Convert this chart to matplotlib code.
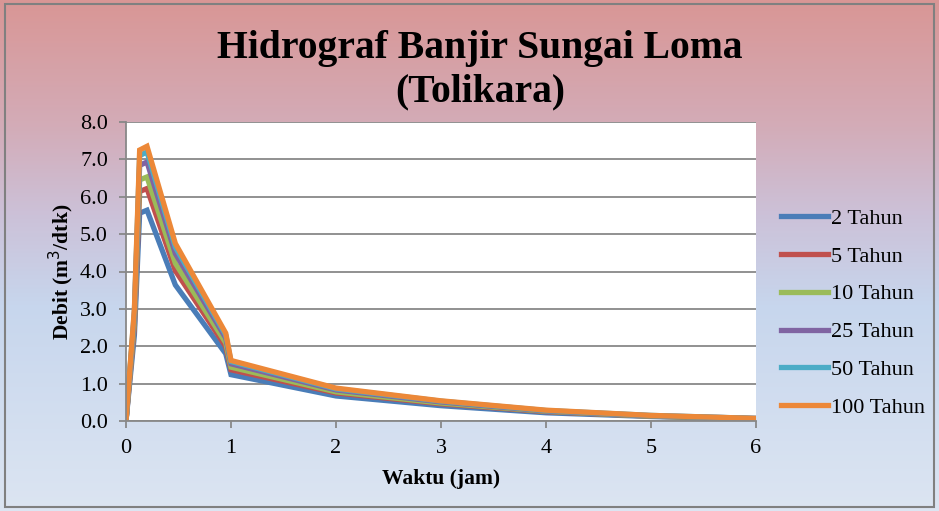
import numpy as np
import matplotlib
matplotlib.use("Agg")
import matplotlib.pyplot as plt
from matplotlib.patches import Rectangle

# ---- data ----
waktu = [0, 0.08, 0.13, 0.2, 0.47, 0.95, 1.0, 2, 3, 4, 5, 6]
q2 = [0, 2.30, 5.56, 5.64, 3.64, 1.80, 1.24, 0.67, 0.41, 0.22, 0.12, 0.05]
q5 = [0, 2.54, 6.14, 6.22, 4.02, 1.99, 1.37, 0.75, 0.46, 0.25, 0.13, 0.06]
q10 = [0, 2.67, 6.45, 6.53, 4.22, 2.09, 1.44, 0.78, 0.48, 0.26, 0.13, 0.06]
q25 = [0, 2.83, 6.84, 6.93, 4.48, 2.22, 1.53, 0.83, 0.51, 0.27, 0.14, 0.07]
q50 = [0, 2.94, 7.10, 7.20, 4.65, 2.30, 1.59, 0.86, 0.53, 0.28, 0.15, 0.07]
q100 = [0, 3.00, 7.25, 7.35, 4.75, 2.35, 1.62, 0.88, 0.54, 0.29, 0.15, 0.07]
labels = ["2 Tahun", "5 Tahun", "10 Tahun", "25 Tahun", "50 Tahun", "100 Tahun"]
colors = ["#4A7DB8", "#C0504D", "#9BBB59", "#8064A2", "#4BACC6", "#EC8838"]
xticks = [0, 1, 2, 3, 4, 5, 6]
yticks = [0.0, 1.0, 2.0, 3.0, 4.0, 5.0, 6.0, 7.0, 8.0]

W, H = 939, 511
fig = plt.figure(figsize=(W / 100, H / 100), dpi=100)

# background gradient
bg = fig.add_axes([0, 0, 1, 1], zorder=-10)
stops = np.array([0.0, 0.25, 0.42, 0.6, 1.0])
cols = np.array([
    [217, 150, 149],
    [211, 172, 184],
    [204, 193, 216],
    [199, 214, 237],
    [220, 229, 242],
]) / 255.0
yy = np.linspace(0, 1, 256)
grad = np.stack([np.interp(yy, stops, cols[:, i]) for i in range(3)], axis=1)
img = np.repeat(grad[:, None, :], 2, axis=1)
bg.imshow(img, aspect="auto", extent=[0, 1, 1, 0])
bg.set_xlim(0, 1)
bg.set_ylim(1, 0)
bg.axis("off")
bg.add_patch(Rectangle((5 / W, 4 / H), 1 - 10 / W, 1 - 8 / H, fill=False,
                       edgecolor="#808080", lw=1.5, transform=bg.transAxes))

serif = ["Liberation Serif", "DejaVu Serif"]

ax = fig.add_axes([126 / W, 1 - 421 / H, (756 - 126) / W, (421 - 122) / H])
ax.set_facecolor("white")
series = [q2, q5, q10, q25, q50, q100]
for s, lab, c in zip(series, labels, colors):
    ax.plot(waktu, s, color=c, lw=3.8, label=lab, solid_joinstyle="miter")

ax.set_xlim(0, 6)
ax.set_ylim(0, 8)
ax.set_xticks(xticks)
ax.set_yticks(yticks)
ax.set_yticklabels([f"{v:.1f}" for v in yticks])
ax.yaxis.grid(True, color="#888888", lw=1.3)
ax.set_axisbelow(True)
for sp in ["top", "right"]:
    ax.spines[sp].set_visible(False)
for sp in ["left", "bottom"]:
    ax.spines[sp].set_color("#888888")
    ax.spines[sp].set_linewidth(1.3)
ax.tick_params(axis="both", direction="out", length=5, width=1.3, color="#888888",
               labelsize=16)
ax.tick_params(axis="x", pad=8)
ax.tick_params(axis="y", pad=8)
for t in ax.get_xticklabels() + ax.get_yticklabels():
    t.set_fontfamily(serif)

ax.set_xlabel("Waktu (jam)", fontsize=15.5, fontweight="bold", family=serif, labelpad=8)
ax.set_ylabel("Debit (m$^3$/dtk)", fontsize=15.5, fontweight="bold", family=serif, labelpad=3)

fig.text(480 / W, 1 - 70 / H, "Hidrograf Banjir Sungai Loma\n(Tolikara)", ha="center",
         va="center", fontsize=28.5, fontweight="bold", family=serif, linespacing=1.22)

leg = ax.legend(loc="center left", bbox_to_anchor=(1.0, 0.361), frameon=False,
                prop={"family": serif, "size": 16}, handlelength=2.1,
                handletextpad=0.15, labelspacing=0.78, borderaxespad=0.74)

fig.savefig("out.png", dpi=100)
